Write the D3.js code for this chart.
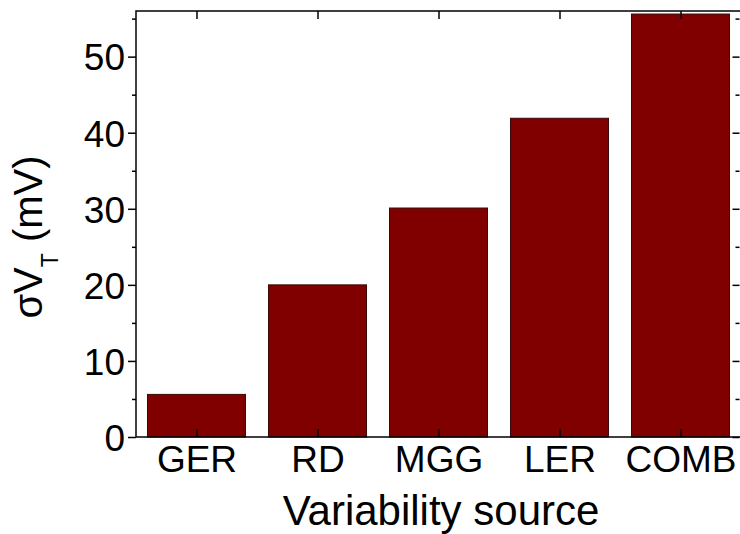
<!DOCTYPE html>
<html><head><meta charset="utf-8">
<script src="https://cdn.jsdelivr.net/npm/d3@7"></script>
<style>body{margin:0;background:#fff}text{font-family:"Liberation Sans",Arial,sans-serif}</style>
</head><body>
<svg id="c" width="740" height="534"></svg>
<script>
const categories = ["GER","RD","MGG","LER","COMB"];
const values = [5.6, 20.0, 30.1, 41.9, 55.6];
const yTicks = [0,10,20,30,40,50];
const yMinor = [5,15,25,35,45,55];

const L=136, R=741, T=11, B=437;
const svg = d3.select("#c");
const x = d3.scaleBand().domain(categories).range([L,R]).paddingInner(0.19).paddingOuter(0.095);
const y = d3.scaleLinear().domain([0,56]).range([B,T]);

svg.selectAll("rect.bar").data(values).join("rect")
  .attr("x",(d,i)=>x(categories[i])).attr("width",x.bandwidth())
  .attr("y",d=>y(d)).attr("height",d=>y(0)-y(d))
  .attr("fill","#800000").attr("stroke","#3a0a0a").attr("stroke-width",1);

const fmt = d3.format("d");
const gl = svg.append("g").attr("transform",`translate(${L},0)`)
  .call(d3.axisLeft(y).tickValues(yTicks).tickSize(8).tickPadding(3).tickFormat(fmt));
gl.selectAll("text").attr("font-size",37).attr("fill","#000").attr("dy","0.36em");
const glm = svg.append("g").attr("transform",`translate(${L},0)`)
  .call(d3.axisLeft(y).tickValues(yMinor).tickSize(4).tickFormat(""));
const gr = svg.append("g").attr("transform",`translate(${R-1.5},0)`)
  .call(d3.axisLeft(y).tickValues(yTicks).tickSize(7).tickFormat(""));
const grm = svg.append("g").attr("transform",`translate(${R-1.5},0)`)
  .call(d3.axisLeft(y).tickValues(yMinor).tickSize(4).tickFormat(""));
const xc = d => x(d)+x.bandwidth()/2;
const xs = d3.scalePoint().domain(categories).range([xc(categories[0]), xc(categories[categories.length-1])]);
const gb = svg.append("g").attr("transform",`translate(0,${B})`)
  .call(d3.axisTop(xs).tickSize(8).tickFormat(""));
const gbl = svg.append("g").attr("transform",`translate(0,${B})`)
  .call(d3.axisBottom(xs).tickSize(0).tickPadding(9));
gbl.selectAll("text").attr("font-size",37).attr("fill","#000").attr("dy","0.71em");
const gt = svg.append("g").attr("transform",`translate(0,${T})`)
  .call(d3.axisBottom(xs).tickSize(8).tickFormat(""));
[gl,glm,gr,grm,gb,gbl,gt].forEach(g=>{
  g.select(".domain").remove();
  g.selectAll("line").attr("stroke","#000").attr("stroke-width",1.5);
});
svg.append("rect").attr("x",L).attr("y",T).attr("width",R-L).attr("height",B-T)
  .attr("fill","none").attr("stroke","#000").attr("stroke-width",1.5);

svg.append("text").attr("x",441).attr("y",525).attr("text-anchor","middle")
  .attr("font-size",42).attr("fill","#000").text("Variability source");
const yl = svg.append("text").attr("transform","translate(42,237) rotate(-90)")
  .attr("text-anchor","middle").attr("font-size",40).attr("fill","#000");
yl.append("tspan").text("σV");
yl.append("tspan").attr("font-size",23).attr("dy",16).text("T");
yl.append("tspan").attr("dy",-16).text(" (mV)");
</script>
</body></html>
